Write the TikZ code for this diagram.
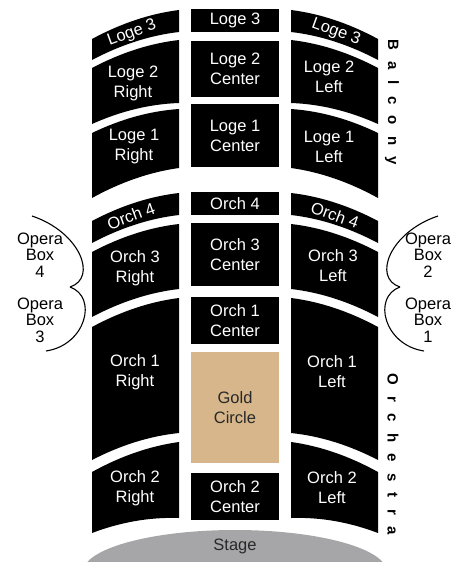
\documentclass[tikz,border=0pt]{standalone}
\usepackage{fontspec}
\setmainfont{Liberation Sans}
\definecolor{goldc}{RGB}{214,182,138}
\definecolor{stagegray}{RGB}{166,166,168}
\definecolor{darktext}{RGB}{40,40,40}
% side seating block (left column, x measured from the axis); mirror with xscale=-1
\newcommand\seatblock[4]{%
  \fill[black] (-143,#1) .. controls (-114,{#1-(#1-#2)/3-6}) and (-85,{#2+(#1-#2)/3-6}) .. (-56,#2)
    -- (-56,#3) .. controls (-85,{#3+(#4-#3)/3-6}) and (-114,{#4-(#4-#3)/3-6}) .. (-143,#4) -- cycle;}
\begin{document}
\begin{tikzpicture}[x=1pt,y=-1pt,
  lbl/.style={text=white, align=center, font=\fontsize{16.5}{20}\selectfont, inner sep=0pt},
  cbox/.style={fill=black, text=white, align=center, font=\fontsize{16.5}{20}\selectfont,
               minimum width=88pt, inner sep=0pt},
  opera/.style={align=center, font=\fontsize{16.5}{16.5}\selectfont, inner sep=0pt},
  vert/.style={rotate=-90, font=\fontsize{15}{15}\selectfont\bfseries\addfontfeature{LetterSpace=75}, inner sep=0pt},
  brace/.style={line width=1.1pt}]
\useasboundingbox (0,0) rectangle (464,562);

% stage
\fill[stagegray] (235,572) ellipse [x radius=152pt, y radius=42pt];
\node[text=darktext, font=\fontsize{16.5}{20}\selectfont] (stage) at (235,546) {Stage};

% side blocks
\foreach \side in {1,-1}{
  \begin{scope}[shift={(235,0)}, xscale=\side]
    \seatblock{39}{10}{32}{60}
    \seatblock{68}{40}{103}{124}
    \seatblock{133}{109}{168}{198}
    \seatblock{221}{193}{215}{243}
    \seatblock{252}{224}{289}{317}
    \seatblock{327}{298}{433}{460}
    \seatblock{472}{442}{518}{533}
  \end{scope}
}

% centre column
\node[cbox, minimum height=23pt] (l3c) at (235,20.5) {Loge 3};
\node[cbox, minimum height=56pt] (l2c) at (235,69) {Loge 2\\Center};
\node[cbox, minimum height=63pt] (l1c) at (235,135.5) {Loge 1\\Center};
\node[cbox, minimum height=23pt] (o4c) at (235,203.5) {Orch 4};
\node[cbox, minimum height=63pt] (o3c) at (235,254.5) {Orch 3\\Center};
\node[cbox, minimum height=47pt] (o1c) at (235,320.5) {Orch 1\\Center};
\node[cbox, minimum height=111pt, fill=goldc, text=darktext] (gold) at (235,407.5) {Gold\\Circle};
\node[cbox, minimum height=47pt] (o2c) at (235,496.5) {Orch 2\\Center};

% labels, right-hand sections (left column)
\node[lbl, rotate=20] (l3r) at (132,33) {Loge 3};
\node[lbl] (l2r) at (133,83) {Loge 2\\Right};
\node[lbl] (l1r) at (134,147) {Loge 1\\Right};
\node[lbl, rotate=20] (o4r) at (131,216) {Orch 4};
\node[lbl] (o3r) at (135,268) {Orch 3\\Right};
\node[lbl] (o1r) at (135,372) {Orch 1\\Right};
\node[lbl] (o2r) at (135,488) {Orch 2\\Right};

% labels, left-hand sections (right column)
\node[lbl, rotate=-20] (l3l) at (336,32) {Loge 3};
\node[lbl] (l2l) at (329,77) {Loge 2\\Left};
\node[lbl] (l1l) at (329,147) {Loge 1\\Left};
\node[lbl, rotate=-20] (o4l) at (335,215) {Orch 4};
\node[lbl] (o3l) at (333,266) {Orch 3\\Left};
\node[lbl] (o1l) at (332,372) {Orch 1\\Left};
\node[lbl] (o2l) at (332,488) {Orch 2\\Left};

% opera boxes
\node[opera] (ob4) at (40,255) {Opera\\Box\\4};
\node[opera] (ob3) at (40,320) {Opera\\Box\\3};
\node[opera] (ob2) at (428,255) {Opera\\Box\\2};
\node[opera] (ob1) at (428,320) {Opera\\Box\\1};
\foreach \side/\sh in {1/0,-1/470}{
  \begin{scope}[shift={(\sh,0)}, xscale=\side]
    \draw[brace] (32,216) .. controls (80,232) and (98,278) .. (70,287);
    \draw[brace] (70,287) .. controls (98,297) and (86,345) .. (46,351);
  \end{scope}
}

% level titles
\node[vert] (balcony) at (392,102) {Balcony};
\node[vert] (orchestra) at (393,454) {Orchestra};
\end{tikzpicture}
\end{document}
